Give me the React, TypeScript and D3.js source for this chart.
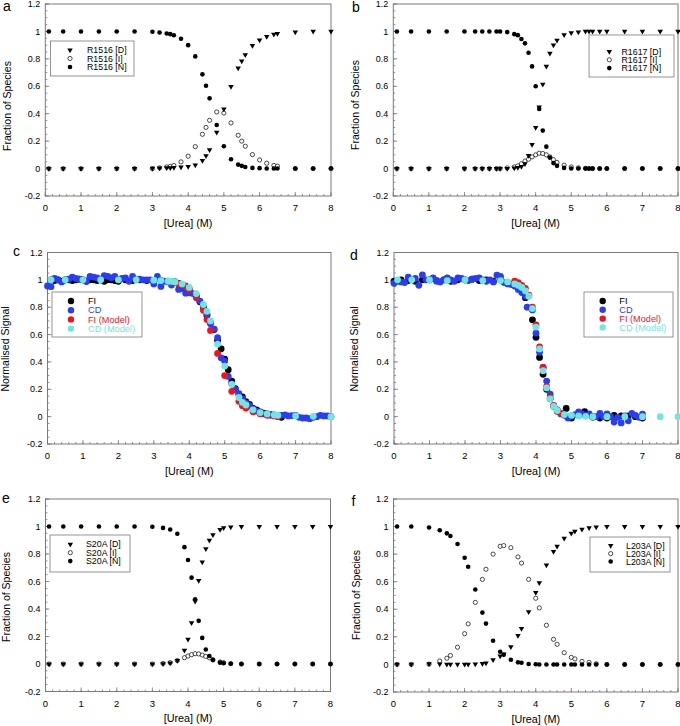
import React from 'react';
import * as d3 from 'd3';

const FONT = '"Liberation Sans", Arial, Helvetica, sans-serif';

// ---- axis ticks ----
const X_TICKS = [0, 1, 2, 3, 4, 5, 6, 7, 8];
const Y_TICKS = [-0.2, 0, 0.2, 0.4, 0.6, 0.8, 1, 1.2];
const Y_TICK_LABELS = ['-0.2', '0', '0.2', '0.4', '0.6', '0.8', '1', '1.2'];
const X_TITLE = '[Urea] (M)';
const Y_TITLE_SPECIES = 'Fraction of Species';
const Y_TITLE_SIGNAL = 'Normalised Signal';

// ---- panel a: R1516 ----
const UREA_A = [0.1, 0.5, 1, 1.5, 2, 2.5, 3, 3.2, 3.4, 3.5, 3.6, 3.8, 4.0, 4.2, 4.4, 4.5, 4.6, 4.8, 5.0, 5.2, 5.4, 5.5, 5.6, 5.8, 6.0, 6.2, 6.4, 6.5, 7, 7.5, 8];
const A_N = [1, 1, 1, 1, 1, 1, 0.998, 0.992, 0.985, 0.98, 0.972, 0.947, 0.9, 0.818, 0.687, 0.604, 0.512, 0.318, 0.163, 0.068, 0.029, 0.02, 0.012, 0.005, 0.003, 0.001, 0, 0, 0, 0, 0];
const A_D = [0, 0, 0, 0, 0, 0, 0.002, 0.003, 0.005, 0.006, 0.007, 0.01, 0.015, 0.025, 0.058, 0.092, 0.137, 0.265, 0.434, 0.597, 0.733, 0.784, 0.83, 0.896, 0.937, 0.962, 0.978, 0.985, 0.995, 1, 1];
const A_I = [0, 0, 0, 0, 0, 0, 0, 0.005, 0.012, 0.016, 0.022, 0.049, 0.09, 0.16, 0.25, 0.3, 0.352, 0.413, 0.405, 0.333, 0.243, 0.2, 0.163, 0.102, 0.063, 0.039, 0.023, 0.018, 0, 0, 0];

// ---- panel b: R1617 ----
const UREA_B = [0.1, 0.5, 1, 1.5, 2, 2.3, 2.5, 2.7, 2.9, 3.0, 3.2, 3.4, 3.5, 3.6, 3.7, 3.8, 3.9, 4.0, 4.1, 4.2, 4.3, 4.4, 4.5, 4.6, 4.8, 5.0, 5.2, 5.4, 5.5, 5.6, 5.8, 6.0, 6.5, 7, 7.5, 8];
const B_N = [1, 1, 1, 1, 1, 1, 1, 1, 1, 1, 0.995, 0.98, 0.973, 0.945, 0.913, 0.845, 0.745, 0.6, 0.434, 0.277, 0.16, 0.08, 0.04, 0.02, 0.005, 0.001, 0, 0, 0, 0, 0, 0, 0, 0, 0, 0];
const B_D = [0, 0, 0, 0, 0, 0, 0, 0, 0, 0, 0, 0.003, 0.007, 0.015, 0.035, 0.095, 0.175, 0.299, 0.449, 0.614, 0.745, 0.84, 0.9, 0.935, 0.975, 0.99, 0.995, 1, 1, 1, 1, 1, 1, 1, 1, 1];
const B_I = [0, 0, 0, 0, 0, 0, 0, 0, 0, 0, 0.005, 0.012, 0.02, 0.035, 0.055, 0.068, 0.085, 0.1, 0.112, 0.11, 0.1, 0.085, 0.065, 0.045, 0.025, 0.012, 0.005, 0.002, 0, 0, 0, 0, 0, 0, 0, 0];

// ---- panel e: S20A ----
const UREA_E = [0.1, 0.5, 1, 1.5, 2, 2.5, 3, 3.3, 3.5, 3.7, 3.9, 4.0, 4.1, 4.2, 4.3, 4.4, 4.5, 4.6, 4.7, 4.9, 5.0, 5.2, 5.5, 6, 6.5, 7, 7.5, 8];
const E_N = [1, 1, 1, 1, 1, 1, 0.998, 0.99, 0.978, 0.947, 0.85, 0.756, 0.628, 0.471, 0.314, 0.19, 0.106, 0.058, 0.03, 0.01, 0.006, 0.002, 0, 0, 0, 0, 0, 0];
const E_D = [0, 0, 0, 0, 0, 0, 0, 0.002, 0.006, 0.024, 0.1, 0.18, 0.3, 0.456, 0.606, 0.742, 0.838, 0.9, 0.94, 0.978, 0.99, 0.996, 1, 1, 1, 1, 1, 1];
const E_I = [0, 0, 0, 0, 0, 0, 0, 0.004, 0.01, 0.025, 0.046, 0.058, 0.068, 0.075, 0.073, 0.065, 0.055, 0.045, 0.03, 0.015, 0.01, 0.003, 0, 0, 0, 0, 0, 0];

// ---- panel f: L203A ----
const UREA_F = [0.1, 0.5, 1, 1.3, 1.5, 1.6, 1.8, 2.0, 2.1, 2.3, 2.5, 2.6, 2.8, 3.0, 3.1, 3.3, 3.5, 3.6, 3.8, 4.0, 4.1, 4.3, 4.5, 4.6, 4.8, 5.0, 5.1, 5.3, 5.5, 5.7, 6, 6.5, 7, 7.5, 8];
const F_N = [1, 1, 0.993, 0.973, 0.951, 0.932, 0.874, 0.774, 0.709, 0.544, 0.376, 0.296, 0.172, 0.092, 0.07, 0.034, 0.015, 0.012, 0.003, 0.001, 0, 0, 0, 0, 0, 0, 0, 0, 0, 0, 0, 0, 0, 0, 0];
const F_D = [0, 0, 0.004, 0.002, 0, 0, 0, 0.001, 0.001, 0.003, 0.006, 0.01, 0.034, 0.06, 0.075, 0.128, 0.21, 0.26, 0.381, 0.522, 0.592, 0.72, 0.818, 0.857, 0.915, 0.951, 0.965, 0.98, 0.99, 0.997, 1, 1, 1, 1, 1];
const F_I = [0, 0, 0.002, 0.025, 0.045, 0.065, 0.125, 0.223, 0.294, 0.45, 0.617, 0.69, 0.8, 0.857, 0.862, 0.847, 0.78, 0.735, 0.617, 0.48, 0.41, 0.284, 0.182, 0.146, 0.085, 0.051, 0.04, 0.022, 0.015, 0.005, 0, 0, 0, 0, 0];

// ---- panel c: R1516 signals ----
const C_FI_X = [0.1, 0.2, 0.3, 0.4, 0.5, 0.6, 0.7, 0.8, 0.9, 1.0, 1.1, 1.2, 1.3, 1.4, 1.5, 1.6, 1.7, 1.8, 1.9, 2.0, 2.2, 2.4, 2.6, 2.8, 3.0, 3.2, 3.4, 3.6, 3.7, 3.8, 4.0, 4.2, 4.3, 4.4, 4.5, 4.6, 4.7, 4.8, 4.9, 5.0, 5.1, 5.2, 5.3, 5.4, 5.5, 5.6, 5.7, 5.8, 5.9, 6.0, 6.1, 6.2, 6.3, 6.4, 6.5, 6.6];
const C_FI_Y = [1.0, 0.995, 1.0, 0.99, 1.0, 1.0, 0.995, 1.0, 1.005, 1.0, 0.99, 1.0, 1.0, 0.995, 1.0, 0.99, 1.0, 1.0, 0.995, 0.99, 1.0, 0.995, 1.0, 0.995, 0.99, 0.995, 0.99, 0.985, 0.975, 0.96, 0.93, 0.885, 0.84, 0.8, 0.74, 0.69, 0.637, 0.557, 0.496, 0.42, 0.343, 0.26, 0.204, 0.165, 0.144, 0.11, 0.09, 0.06, 0.05, 0.035, 0.025, 0.02, 0.015, 0.01, 0.005, -0.005];
const C_CD_X = [0.0, 0.1, 0.2, 0.3, 0.4, 0.5, 0.6, 0.7, 0.8, 0.9, 1.0, 1.1, 1.2, 1.3, 1.4, 1.5, 1.6, 1.7, 1.8, 1.9, 2.0, 2.1, 2.2, 2.3, 2.4, 2.5, 2.6, 2.7, 2.8, 2.9, 3.0, 3.1, 3.2, 3.3, 3.4, 3.5, 3.6, 3.7, 3.8, 3.9, 4.0, 4.1, 4.2, 4.3, 4.4, 4.5, 4.6, 4.7, 4.8, 4.9, 5.0, 5.1, 5.2, 5.3, 5.4, 5.5, 5.6, 5.7, 5.8, 5.9, 6.0, 6.1, 6.2, 6.3, 6.4, 6.5, 6.6, 6.7, 6.8, 6.9, 7.0, 7.1, 7.2, 7.3, 7.4, 7.5, 7.6, 7.7, 7.8, 7.9, 8.0];
const C_CD_Y = [0.955, 0.95, 1.01, 1.0, 0.985, 1.0, 1.005, 1.02, 1.01, 1.005, 1.0, 0.99, 1.025, 1.02, 1.015, 1.0, 1.03, 1.025, 1.015, 1.025, 1.0, 1.01, 1.015, 0.99, 1.025, 1.0, 1.005, 1.0, 1.0, 1.0, 0.97, 1.025, 0.952, 0.99, 0.985, 0.962, 0.985, 0.93, 0.935, 0.903, 0.905, 0.9, 0.87, 0.845, 0.8, 0.75, 0.68, 0.64, 0.577, 0.43, 0.406, 0.294, 0.24, 0.2, 0.168, 0.13, 0.1, 0.08, 0.055, 0.04, 0.03, 0.02, 0.015, 0.01, 0.012, 0.005, 0.01, 0.012, 0.005, 0.008, 0.01, -0.005, -0.01, -0.01, -0.015, -0.005, 0.0, 0.01, 0.005, 0.005, 0.0];
const C_FIM_X = [3.5, 3.7, 3.9, 4.0, 4.2, 4.4, 4.5, 4.6, 4.8, 5.0, 5.2, 5.4, 5.5, 5.6, 5.8, 6.0, 6.2, 6.4, 6.5];
const C_FIM_Y = [0.985, 0.97, 0.955, 0.93, 0.873, 0.778, 0.71, 0.63, 0.462, 0.3, 0.185, 0.112, 0.08, 0.063, 0.035, 0.022, 0.01, 0.005, 0.0];
const C_CDM_X = [0.1, 0.5, 1.0, 1.5, 2.0, 2.5, 3.0, 3.2, 3.4, 3.5, 3.6, 3.8, 4.0, 4.2, 4.4, 4.5, 4.6, 4.8, 5.0, 5.2, 5.4, 5.5, 5.6, 5.8, 6.0, 6.2, 6.4, 6.5, 7.0, 7.5, 8.0];
const C_CDM_Y = [1.0, 1.0, 1.0, 1.0, 1.0, 1.0, 0.998, 0.995, 0.99, 0.99, 0.985, 0.97, 0.945, 0.9, 0.82, 0.77, 0.7, 0.53, 0.37, 0.235, 0.14, 0.105, 0.085, 0.05, 0.03, 0.02, 0.012, 0.01, 0.005, 0.002, 0.0];

// ---- panel d: R1617 signals ----
const D_FI_X = [0.0, 0.2, 0.4, 0.6, 0.8, 1.0, 1.2, 1.4, 1.6, 1.8, 2.0, 2.2, 2.4, 2.6, 2.8, 3.0, 3.2, 3.4, 3.6, 3.7, 3.9, 4.0, 4.1, 4.2, 4.3, 4.4, 4.5, 4.6, 4.85, 5.0, 5.2, 5.37, 5.6, 5.8, 6.0, 6.2, 6.4, 6.6, 6.8, 7.0];
const D_FI_Y = [0.99, 1.0, 0.995, 0.99, 1.0, 1.0, 0.995, 1.0, 0.99, 1.0, 1.0, 1.005, 0.995, 1.0, 0.99, 1.0, 0.98, 0.96, 0.92, 0.87, 0.708, 0.58, 0.433, 0.31, 0.2, 0.13, 0.075, 0.04, 0.06, -0.01, 0.01, 0.037, 0.0, -0.01, -0.01, 0.01, 0.005, 0.005, 0.0, -0.01];
const D_CD_X = [0.0, 0.1, 0.2, 0.3, 0.4, 0.5, 0.6, 0.7, 0.8, 0.9, 1.0, 1.1, 1.2, 1.3, 1.4, 1.5, 1.6, 1.7, 1.8, 1.9, 2.0, 2.1, 2.2, 2.3, 2.4, 2.5, 2.6, 2.7, 2.8, 2.9, 3.0, 3.1, 3.2, 3.3, 3.4, 3.5, 3.6, 3.7, 3.75, 3.9, 4.0, 4.1, 4.2, 4.3, 4.4, 4.5, 4.6, 4.7, 4.8, 4.9, 5.0, 5.1, 5.2, 5.3, 5.4, 5.5, 5.6, 5.7, 5.8, 5.9, 6.0, 6.1, 6.2, 6.3, 6.4, 6.5, 6.6, 6.7, 6.8, 6.9, 7.0];
const D_CD_Y = [0.975, 0.99, 0.985, 0.98, 1.02, 1.0, 1.01, 0.96, 1.036, 1.0, 1.0, 1.015, 0.99, 0.985, 1.0, 1.015, 1.0, 0.99, 1.015, 1.01, 1.0, 0.995, 1.005, 1.01, 1.015, 1.0, 0.99, 1.0, 0.985, 1.034, 1.025, 0.98, 0.97, 0.965, 0.955, 0.93, 0.907, 0.88, 0.8, 0.78, 0.61, 0.47, 0.36, 0.26, 0.165, 0.08, 0.05, 0.02, 0.01, -0.01, 0.005, 0.015, 0.034, 0.02, 0.01, 0.02, -0.005, 0.0, 0.024, 0.0, 0.02, 0.0, -0.039, -0.005, -0.046, 0.005, -0.03, 0.024, 0.01, -0.005, 0.019];
const D_FIM_X = [3.4, 3.5, 3.6, 3.7, 3.8, 3.9, 4.0, 4.1, 4.2, 4.3, 4.4, 4.5, 4.6, 4.7];
const D_FIM_Y = [0.99, 0.98, 0.96, 0.937, 0.888, 0.8, 0.67, 0.51, 0.36, 0.221, 0.14, 0.08, 0.045, 0.025];
const D_CDM_X = [0.1, 0.5, 1.0, 1.5, 2.0, 2.5, 3.0, 3.2, 3.4, 3.5, 3.6, 3.7, 3.8, 3.9, 4.0, 4.1, 4.2, 4.3, 4.4, 4.5, 4.6, 4.8, 5.0, 5.2, 5.4, 5.6, 6.0, 6.5, 7.0, 7.5, 8.0];
const D_CDM_Y = [1.0, 1.0, 1.0, 0.995, 1.0, 0.995, 0.995, 0.985, 0.97, 0.96, 0.945, 0.92, 0.88, 0.79, 0.655, 0.495, 0.336, 0.21, 0.13, 0.075, 0.045, 0.015, 0.01, 0.005, 0.002, 0.0, 0.0, 0.0, 0.0, 0.0, 0.0];

const SIGNAL_LABELS = ['FI', 'CD', 'FI (Model)', 'CD (Model)'];
const SIGNAL_COLORS = ['#000000', '#2b3df2', '#f2121c', '#6fe6e4'];
const SPECIES_TAGS = ['[D]', '[I]', '[N]'];
const FRAME = '#7a7a7a';

type Box = { left: number; right: number; top: number; bottom: number };

const zip = (xs: number[], ys: number[]) => xs.map((x, i) => [x, ys[i]] as [number, number]);

function Frame({ box, letter, letterX, letterY, yTitle, yTitleX, yTitleY }: any) {
  const x = d3.scaleLinear().domain([0, 8]).range([box.left, box.right]);
  const y = d3.scaleLinear().domain([-0.2, 1.2]).range([box.bottom, box.top]);
  const minorX = d3.range(0, 8.0001, 0.2);
  const minorY = d3.range(-0.2, 1.2001, 0.05);
  return (
    <g>
      <rect x={box.left} y={box.top} width={box.right - box.left} height={box.bottom - box.top} fill="none" stroke={FRAME} strokeWidth={1} />
      {minorX.map((v, i) => (
        <line key={'mx' + i} x1={x(v)} x2={x(v)} y1={box.bottom} y2={box.bottom - 2} stroke={FRAME} strokeWidth={0.8} />
      ))}
      {X_TICKS.map((v) => (
        <line key={'Mx' + v} x1={x(v)} x2={x(v)} y1={box.bottom} y2={box.bottom - 4} stroke={FRAME} strokeWidth={0.8} />
      ))}
      {minorY.map((v, i) => (
        <line key={'my' + i} x1={box.left} x2={box.left + 2} y1={y(v)} y2={y(v)} stroke={FRAME} strokeWidth={0.8} />
      ))}
      {Y_TICKS.map((v) => (
        <line key={'My' + v} x1={box.left} x2={box.left + 4} y1={y(v)} y2={y(v)} stroke={FRAME} strokeWidth={0.8} />
      ))}
      {X_TICKS.map((v) => (
        <text key={'lx' + v} x={x(v)} y={box.bottom + 15} fontSize={9.5} textAnchor="middle" fontFamily={FONT}>{String(v)}</text>
      ))}
      {Y_TICKS.map((v, i) => (
        <text key={'ly' + v} x={box.left - 5} y={y(v)} dy="0.35em" fontSize={9} textAnchor="end" fontFamily={FONT}>{Y_TICK_LABELS[i]}</text>
      ))}
      <text x={(box.left + box.right) / 2} y={box.bottom + 30.5} fontSize={10.8} textAnchor="middle" fontFamily={FONT}>{X_TITLE}</text>
      <text transform={`translate(${yTitleX},${yTitleY}) rotate(-90)`} fontSize={10.5} textAnchor="middle" fontFamily={FONT}>{yTitle}</text>
      <text x={letterX} y={letterY} fontSize={14} fontFamily={FONT}>{letter}</text>
    </g>
  );
}

const triPath = d3.symbol(d3.symbolTriangle, 13)() as string;

function Tri({ cx, cy, fill = '#000' }: any) {
  return <path d={triPath} transform={`translate(${cx},${cy}) rotate(180)`} fill={fill} />;
}

function SpeciesPanel({ box, letter, letterX, letterY, yTitleX, yTitleY, urea, N, I, D, name, legend }: any) {
  const x = d3.scaleLinear().domain([0, 8]).range([box.left, box.right]);
  const y = d3.scaleLinear().domain([-0.2, 1.2]).range([box.bottom, box.top]);
  const nPts = zip(urea, N);
  const iPts = zip(urea, I);
  const dPts = zip(urea, D);
  const L = legend;
  return (
    <g>
      <Frame box={box} letter={letter} letterX={letterX} letterY={letterY} yTitle={Y_TITLE_SPECIES} yTitleX={yTitleX} yTitleY={yTitleY} />
      {iPts.map(([u, v], i) => (
        <circle key={'i' + i} cx={x(u)} cy={y(v)} r={2.1} fill="#fff" stroke="#000" strokeWidth={0.7} />
      ))}
      {dPts.map(([u, v], i) => (
        <Tri key={'d' + i} cx={x(u)} cy={y(v)} />
      ))}
      {nPts.map(([u, v], i) => (
        <circle key={'n' + i} cx={x(u)} cy={y(v)} r={2.3} fill="#000" />
      ))}
      <rect x={L.x} y={L.y} width={L.w} height={L.h} fill="#fff" stroke={FRAME} strokeWidth={0.8} />
      <Tri cx={L.sx} cy={L.r0} />
      <circle cx={L.sx} cy={L.r0 + L.dr} r={2.1} fill="#fff" stroke="#000" strokeWidth={0.7} />
      <circle cx={L.sx} cy={L.r0 + 2 * L.dr} r={2.3} fill="#000" />
      {SPECIES_TAGS.map((s, k) => (
        <text key={s} x={L.tx} y={L.r0 + k * L.dr} dy="0.35em" fontSize={8.8} fontFamily={FONT}>{`${name} ${s}`}</text>
      ))}
    </g>
  );
}

function SignalPanel({ box, letter, letterX, letterY, yTitleX, yTitleY, series, legend }: any) {
  const x = d3.scaleLinear().domain([0, 8]).range([box.left, box.right]);
  const y = d3.scaleLinear().domain([-0.2, 1.2]).range([box.bottom, box.top]);
  const L = legend;
  return (
    <g>
      <Frame box={box} letter={letter} letterX={letterX} letterY={letterY} yTitle={Y_TITLE_SIGNAL} yTitleX={yTitleX} yTitleY={yTitleY} />
      {series.map((s: [number, number][], k: number) => (
        <g key={k}>
          {s.map(([u, v], i) => (
            <circle key={i} cx={x(u)} cy={y(v)} r={3.4} fill={SIGNAL_COLORS[k]} />
          ))}
        </g>
      ))}
      <rect x={L.x} y={L.y} width={L.w} height={L.h} fill="#fff" stroke={FRAME} strokeWidth={0.8} />
      {SIGNAL_LABELS.map((lab, k) => (
        <g key={lab}>
          <circle cx={L.sx} cy={L.r0 + k * L.dr} r={3.2} fill={SIGNAL_COLORS[k]} />
          <text x={L.tx} y={L.r0 + k * L.dr} dy="0.35em" fontSize={9.2} fill={SIGNAL_COLORS[k]} fontFamily={FONT}>{lab}</text>
        </g>
      ))}
    </g>
  );
}

export default function App() {
  const boxA: Box = { left: 45.3, right: 331, top: 4, bottom: 196 };
  const boxB: Box = { left: 393.3, right: 678, top: 4, bottom: 196 };
  const boxC: Box = { left: 47.5, right: 331, top: 252.5, bottom: 444 };
  const boxD: Box = { left: 394, right: 678, top: 252.5, bottom: 444 };
  const boxE: Box = { left: 45.5, right: 330.5, top: 499, bottom: 691.5 };
  const boxF: Box = { left: 393.5, right: 678, top: 499, bottom: 692 };

  const cSeries = [zip(C_FI_X, C_FI_Y), zip(C_CD_X, C_CD_Y), zip(C_FIM_X, C_FIM_Y), zip(C_CDM_X, C_CDM_Y)];
  const dSeries = [zip(D_FI_X, D_FI_Y), zip(D_CD_X, D_CD_Y), zip(D_FIM_X, D_FIM_Y), zip(D_CDM_X, D_CDM_Y)];

  return (
    <svg width={680} height={726} style={{ position: 'absolute', left: 0, top: 0, background: '#fff' }} fontFamily={FONT}>
      <rect x={0} y={0} width={680} height={726} fill="#fff" />
      <SpeciesPanel box={boxA} letter="a" letterX={3} letterY={10.5} yTitleX={11} yTitleY={106}
        urea={UREA_A} N={A_N} I={A_I} D={A_D} name="R1516"
        legend={{ x: 50.5, y: 41, w: 83.5, h: 35, sx: 70, tx: 87, r0: 50, dr: 8.5 }} />
      <SpeciesPanel box={boxB} letter="b" letterX={352} letterY={11.5} yTitleX={359} yTitleY={105}
        urea={UREA_B} N={B_N} I={B_I} D={B_D} name="R1617"
        legend={{ x: 589, y: 35, w: 85, h: 42, sx: 609.3, tx: 621.5, r0: 51.5, dr: 8.3 }} />
      <SignalPanel box={boxC} letter="c" letterX={13} letterY={256} yTitleX={8.5} yTitleY={349}
        series={cSeries}
        legend={{ x: 52, y: 292, w: 90, h: 45, sx: 71, tx: 88, r0: 301, dr: 9.2 }} />
      <SignalPanel box={boxD} letter="d" letterX={350} letterY={260} yTitleX={357.5} yTitleY={349}
        series={dSeries}
        legend={{ x: 584, y: 292, w: 89, h: 45, sx: 602.7, tx: 619.3, r0: 301, dr: 8.8 }} />
      <SpeciesPanel box={boxE} letter="e" letterX={2} letterY={503} yTitleX={10} yTitleY={597}
        urea={UREA_E} N={E_N} I={E_I} D={E_D} name="S20A"
        legend={{ x: 50, y: 535, w: 80, h: 37, sx: 70.3, tx: 86, r0: 544.3, dr: 8.4 }} />
      <SpeciesPanel box={boxF} letter="f" letterX={351.5} letterY={506} yTitleX={359.5} yTitleY={595}
        urea={UREA_F} N={F_N} I={F_I} D={F_D} name="L203A"
        legend={{ x: 590, y: 537, w: 80, h: 35, sx: 610.7, tx: 626, r0: 545.7, dr: 7.9 }} />
    </svg>
  );
}
